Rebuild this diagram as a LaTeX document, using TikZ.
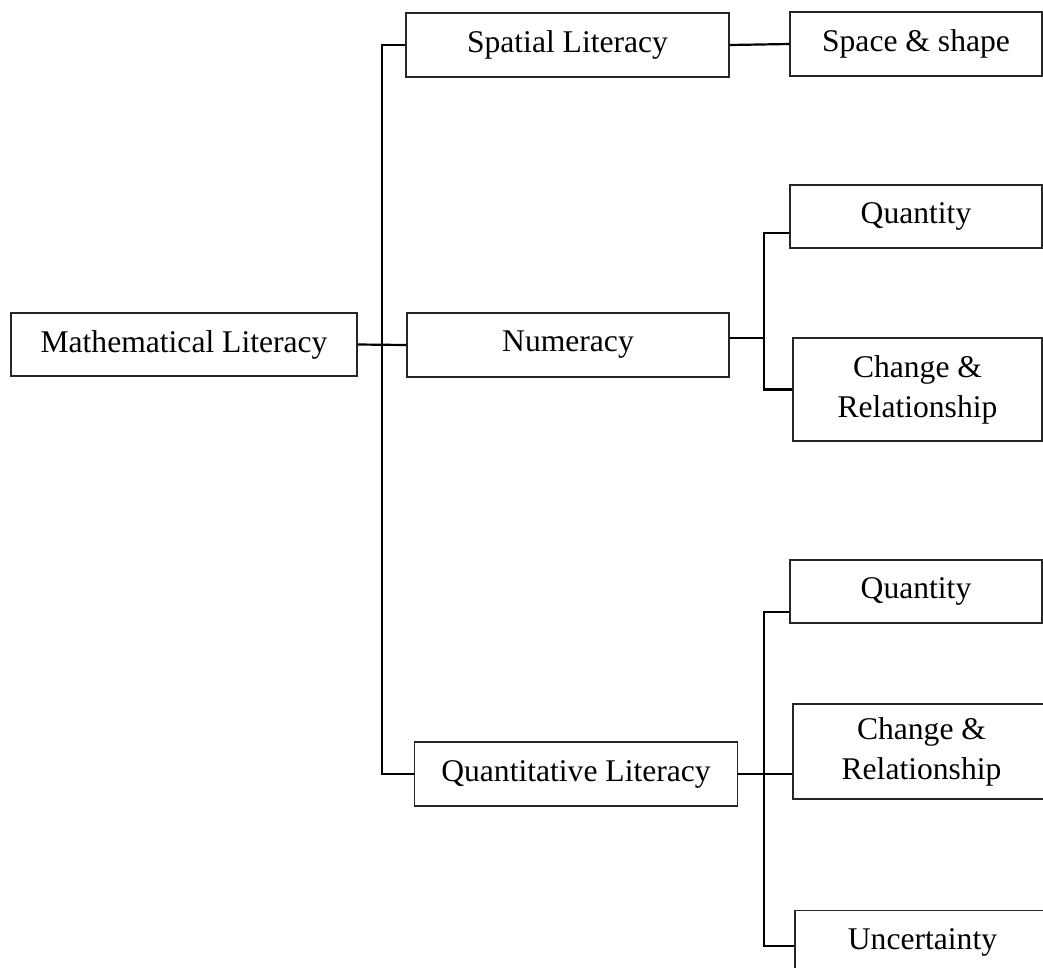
\documentclass[tikz,border=0pt]{standalone}
\usepackage{fontspec}
\setmainfont{Liberation Serif}
\begin{document}
\begin{tikzpicture}[x=1pt,y=-1pt,
		box/.style={draw=black!85,line width=1.4pt,inner sep=0pt,align=center,font=\fontsize{31.6}{40}\selectfont},
		link/.style={line width=2.2pt}]
			\useasboundingbox (0,0) rectangle (1043,967);
			\node[box,minimum width=346,minimum height=63] (math) at (184,344.5) {Mathematical Literacy};
			\node[box,minimum width=323,minimum height=64] (spatial) at (567.5,45) {Spatial Literacy};
			\node[box,minimum width=322,minimum height=64] (numeracy) at (568,345) {Numeracy};
			\node[box,minimum width=323,minimum height=64] (quantlit) at (576,774) {Quantitative Literacy};
			\node[box,minimum width=252,minimum height=64] (space) at (916,44) {Space \& shape};
			\node[box,minimum width=252,minimum height=63] (qty1) at (916,216.5) {Quantity};
			\node[box,minimum width=249,minimum height=103] (chg1) at (917.5,389.5) {Change \&\\Relationship};
			\node[box,minimum width=252,minimum height=63] (qty2) at (916,591.5) {Quantity};
			\node[box,minimum width=257,minimum height=95] (chg2) at (921.5,751.5) {Change \&\\Relationship};
			\node[box,minimum width=255,minimum height=64] (unc) at (922.5,942.6) {Uncertainty};
			\coordinate (fork) at (764,0);
			\coordinate (numOut) at ([yshift=7pt]numeracy.east);
			\coordinate (uncIn) at ([yshift=-3pt]unc.west);
			\draw [link] (spatial.west) -- ++(-23,0) |- (quantlit.west);
			\draw [link] (math.east) -- (numeracy.west);
			\draw [link] (spatial.east) -- (space.west);
			\draw [link] (numOut) -- (fork |- numOut);
			\draw [link] ([yshift=-16.5pt]qty1.west) -| (fork |- chg1.west) -- (chg1.west);
			\draw [link] ([yshift=-20.5pt]qty2.west) -| (fork |- uncIn) -- (uncIn);
			\draw [link] (quantlit.east) -- (chg2.west |- quantlit.east);
		\end{tikzpicture}
\end{document}
